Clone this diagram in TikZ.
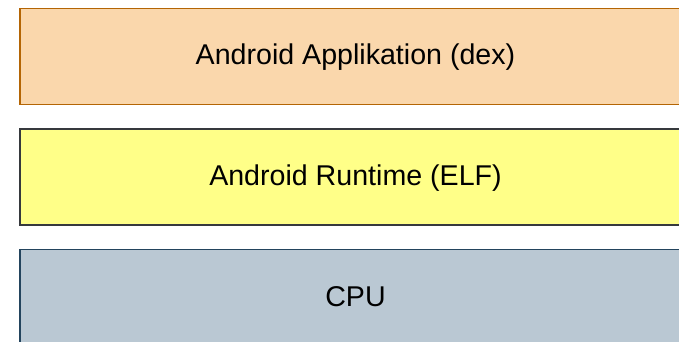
\documentclass[tikz,border=0pt]{standalone}
\usepackage{fontspec}
\setmainfont{Liberation Sans}
\usetikzlibrary{positioning}

\tikzset{
    layer/.style={draw, line width=1.5pt, minimum width=671pt, minimum height=96pt,
        inner sep=0pt, text height=20.5pt, text depth=3.5pt,
        font=\fontsize{28.6}{34}\selectfont}
}
\definecolor{appfill}{HTML}{FAD7AC}
\definecolor{appline}{HTML}{B46504}
\definecolor{rtfill}{HTML}{FFFF88}
\definecolor{rtline}{HTML}{36393D}
\definecolor{cpufill}{HTML}{BAC8D3}
\definecolor{cpuline}{HTML}{23445D}

\begin{document}
\begin{tikzpicture}
    \useasboundingbox (0,0) rectangle (679pt,-342pt);
    \clip (0,0) rectangle (679pt,-342pt);

    % Application layer
    \node[layer, fill=appfill, draw=appline] (app) at (355.5pt,-56.5pt) {Android Applikation (dex)};

    % Runtime layer
    \node[layer, fill=rtfill, draw=rtline, below=23pt of app] (runtime) {Android Runtime (ELF)};

    % Hardware
    \node[layer, fill=cpufill, draw=cpuline, below=23pt of runtime] (cpu) {CPU};
\end{tikzpicture}
\end{document}
